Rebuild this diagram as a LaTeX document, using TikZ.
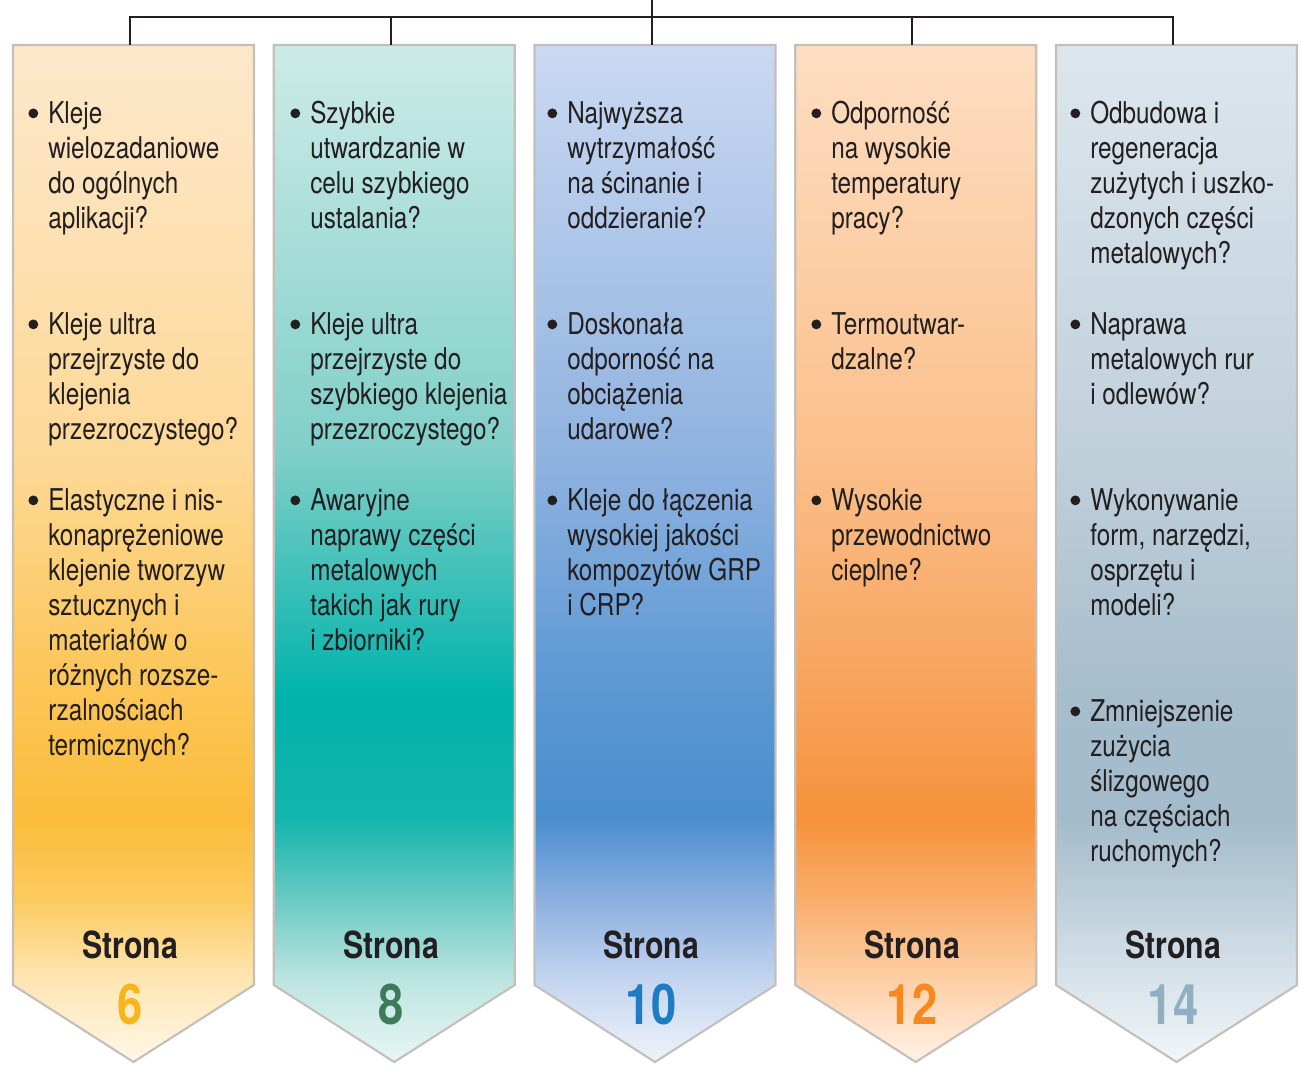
\documentclass[tikz,border=0pt]{standalone}
\usepackage{fontspec}
\setmainfont{TeX Gyre Heros}[FakeStretch=0.81]
\definecolor{txt}{HTML}{231F20}
\definecolor{edge}{HTML}{C4BFBA}
% column 1 (yellow)
\definecolor{a0}{HTML}{FFF7E8}\definecolor{a1}{HTML}{FEE6B4}\definecolor{a2}{HTML}{FCCB60}
\definecolor{a3}{HTML}{FBBC3A}\definecolor{a4}{HTML}{FCC554}\definecolor{a5}{HTML}{FDD998}\definecolor{a6}{HTML}{FDE8CB}
% column 2 (teal)
\definecolor{b0}{HTML}{E8F6F4}\definecolor{b1}{HTML}{BEE5E1}\definecolor{b2}{HTML}{6ACAC3}
\definecolor{b3}{HTML}{12B5AD}\definecolor{b4}{HTML}{00B3AB}\definecolor{b5}{HTML}{80CFC8}\definecolor{b6}{HTML}{CDEBE7}
% column 3 (blue)
\definecolor{c0}{HTML}{EEF3FB}\definecolor{c1}{HTML}{C4D5EF}\definecolor{c2}{HTML}{8CAFDF}
\definecolor{c3}{HTML}{4A8ECF}\definecolor{c4}{HTML}{5A97D3}\definecolor{c5}{HTML}{90B3E0}\definecolor{c6}{HTML}{CAD9F1}
% column 4 (orange)
\definecolor{d0}{HTML}{FFF2E6}\definecolor{d1}{HTML}{FDCFA6}\definecolor{d2}{HTML}{F9AD6C}
\definecolor{d3}{HTML}{F6923A}\definecolor{d4}{HTML}{F7A25A}\definecolor{d5}{HTML}{FBC08C}\definecolor{d6}{HTML}{FDDEC2}
% column 5 (grey-blue)
\definecolor{e0}{HTML}{F2F6F9}\definecolor{e1}{HTML}{D8E3EA}\definecolor{e2}{HTML}{BDCFDB}
\definecolor{e3}{HTML}{A3BBCB}\definecolor{e4}{HTML}{A6BDCC}\definecolor{e5}{HTML}{C0D0DB}\definecolor{e6}{HTML}{DDE6ED}
% number colours
\definecolor{nA}{HTML}{F8B41A}\definecolor{nB}{HTML}{3D7A5A}\definecolor{nC}{HTML}{1E7CC2}
\definecolor{nD}{HTML}{F5891F}\definecolor{nE}{HTML}{91AFC3}

\pgfdeclareverticalshading{shA}{100bp}{color(0bp)=(a0); color(25bp)=(a0); color(29bp)=(a1); color(33bp)=(a2); color(37bp)=(a3); color(43bp)=(a4); color(55bp)=(a5); color(75bp)=(a6); color(100bp)=(a6)}
\pgfdeclareverticalshading{shB}{100bp}{color(0bp)=(b0); color(25bp)=(b0); color(29bp)=(b1); color(33bp)=(b2); color(37bp)=(b3); color(43bp)=(b4); color(55bp)=(b5); color(75bp)=(b6); color(100bp)=(b6)}
\pgfdeclareverticalshading{shC}{100bp}{color(0bp)=(c0); color(25bp)=(c0); color(29bp)=(c1); color(33bp)=(c2); color(37bp)=(c3); color(43bp)=(c4); color(55bp)=(c5); color(75bp)=(c6); color(100bp)=(c6)}
\pgfdeclareverticalshading{shD}{100bp}{color(0bp)=(d0); color(25bp)=(d0); color(29bp)=(d1); color(33bp)=(d2); color(37bp)=(d3); color(43bp)=(d4); color(55bp)=(d5); color(75bp)=(d6); color(100bp)=(d6)}
\pgfdeclareverticalshading{shE}{100bp}{color(0bp)=(e0); color(25bp)=(e0); color(29bp)=(e1); color(33bp)=(e2); color(37bp)=(e3); color(43bp)=(e4); color(55bp)=(e5); color(75bp)=(e6); color(100bp)=(e6)}

\newcommand\bl{\llap{\tikz[baseline=0pt]\fill[txt] (0pt,7.8pt) circle (3.7pt);\hspace{7.5pt}}\strut}

\tikzset{
  colbox/.style={draw=edge, line width=1.6pt, line join=miter},
  item/.style={anchor=north west, inner sep=0pt, align=left, text=txt,
    font=\fontsize{22.5}{26.25}\selectfont},
  pagelbl/.style={anchor=base, inner sep=0pt, text=txt,
    font=\bfseries\fontsize{28}{30}\selectfont},
  pagenum/.style={anchor=base, inner sep=0pt,
    font=\bfseries\fontsize{42}{44}\selectfont},
  link/.style={draw=txt, line width=1.5pt}
}

\begin{document}
\begin{tikzpicture}[x=0.75pt,y=-0.75pt]
\useasboundingbox (0,0) rectangle (1303,1068);

% columns
\path[colbox, shading=shA] (13,45) -- (254,45) -- (254,985) -- (133.5,1062) -- (13,985) -- cycle;
\path[colbox, shading=shB] (273.75,45) -- (514.75,45) -- (514.75,985) -- (394.25,1062) -- (273.75,985) -- cycle;
\path[colbox, shading=shC] (534.5,45) -- (775.5,45) -- (775.5,985) -- (655,1062) -- (534.5,985) -- cycle;
\path[colbox, shading=shD] (795.25,45) -- (1036.25,45) -- (1036.25,985) -- (915.75,1062) -- (795.25,985) -- cycle;
\path[colbox, shading=shE] (1056,45) -- (1297,45) -- (1297,985) -- (1176.5,1062) -- (1056,985) -- cycle;

% connector
\coordinate (root) at (652,0);
\coordinate (hub) at (652,17);
\coordinate (top1) at (130,45);
\coordinate (top2) at (391,45);
\coordinate (top3) at (652,45);
\coordinate (top4) at (912,45);
\coordinate (top5) at (1173,45);
\draw[link] (top1) |- (hub) -| (top5);
\draw[link] (root) -- (top3);
\draw[link] (top2) -- (top2 |- hub);
\draw[link] (top4) -- (top4 |- hub);

% column 1
\node[item] (t11) at (48,99) {\bl Kleje\\wielozadaniowe\\do ogólnych\\aplikacji?};
\node[item] (t12) at (48,310) {\bl Kleje ultra\\przejrzyste do\\klejenia\\przezroczystego?};
\node[item] (t13) at (48,486) {\bl Elastyczne i nis-\\konaprężeniowe\\klejenie tworzyw\\sztucznych i\\materiałów o\\różnych rozsze-\\rzalnościach\\termicznych?};
\node[pagelbl] (s1) at (130,958) {Strona};
\node[pagenum, text=nA] (n1) at (130,1024) {6};

% column 2
\node[item] (t21) at (310,99) {\bl Szybkie\\utwardzanie w\\celu szybkiego\\ustalania?};
\node[item] (t22) at (310,310) {\bl Kleje ultra\\przejrzyste do\\szybkiego klejenia\\przezroczystego?};
\node[item] (t23) at (310,486) {\bl Awaryjne\\naprawy części\\metalowych\\takich jak rury\\i zbiorniki?};
\node[pagelbl] (s2) at (391,958) {Strona};
\node[pagenum, text=nB] (n2) at (391,1024) {8};

% column 3
\node[item] (t31) at (567,99) {\bl Najwyższa\\wytrzymałość\\na ścinanie i\\oddzieranie?};
\node[item] (t32) at (567,310) {\bl Doskonała\\odporność na\\obciążenia\\udarowe?};
\node[item] (t33) at (567,486) {\bl Kleje do łączenia\\wysokiej jakości\\kompozytów GRP\\i CRP?};
\node[pagelbl] (s3) at (651,958) {Strona};
\node[pagenum, text=nC] (n3) at (651,1024) {10};

% column 4
\node[item] (t41) at (831,99) {\bl Odporność\\na wysokie\\temperatury\\pracy?};
\node[item] (t42) at (831,310) {\bl Termoutwar-\\dzalne?};
\node[item] (t43) at (831,486) {\bl Wysokie\\przewodnictwo\\cieplne?};
\node[pagelbl] (s4) at (912,958) {Strona};
\node[pagenum, text=nD] (n4) at (912,1024) {12};

% column 5
\node[item] (t51) at (1090,99) {\bl Odbudowa i\\regeneracja\\zużytych i uszko-\\dzonych części\\metalowych?};
\node[item] (t52) at (1090,310) {\bl Naprawa\\metalowych rur\\i odlewów?};
\node[item] (t53) at (1090,486) {\bl Wykonywanie\\form, narzędzi,\\osprzętu i\\modeli?};
\node[item] (t54) at (1090,697) {\bl Zmniejszenie\\zużycia\\ślizgowego\\na częściach\\ruchomych?};
\node[pagelbl] (s5) at (1173,958) {Strona};
\node[pagenum, text=nE] (n5) at (1173,1024) {14};
\end{tikzpicture}
\end{document}
